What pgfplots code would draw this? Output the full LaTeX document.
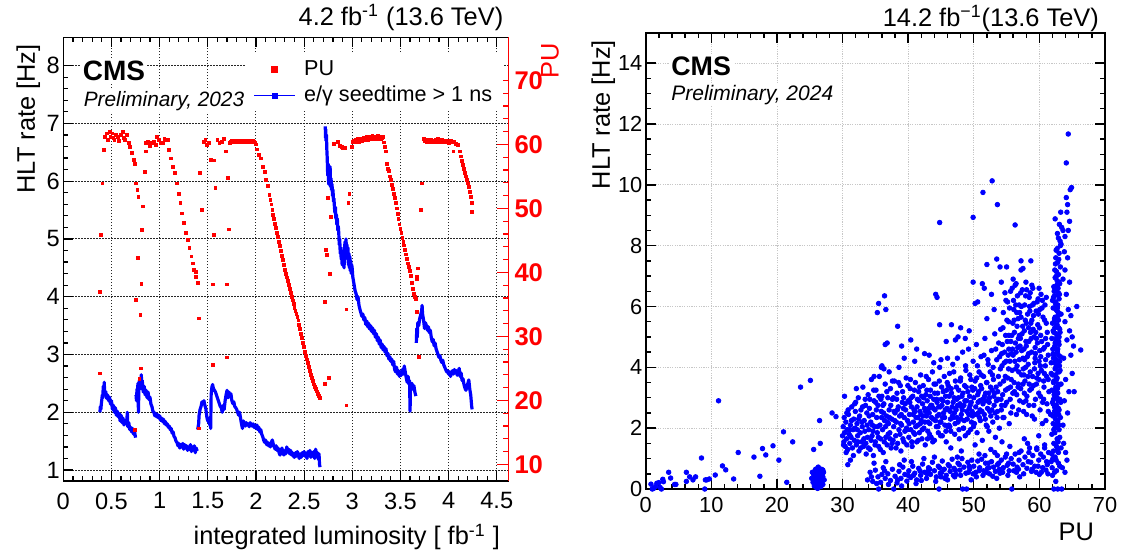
\documentclass[border=0pt]{standalone}
\usepackage{fontspec}
\setmainfont{Liberation Sans}
\usepackage{pgfplots}
\pgfplotsset{compat=1.18}
\definecolor{rred}{RGB}{255,0,0}
\definecolor{rblue}{RGB}{0,0,255}
\newcommand{\tfL}{\fontsize{11.8}{12}\selectfont}
\newcommand{\tfR}{\fontsize{10.9}{11}\selectfont}
\newcommand{\lab}{\fontsize{12.7}{13}\selectfont}
\begin{document}
\begin{tikzpicture}
\useasboundingbox (0pt,0pt) rectangle (561.5pt,-277pt);
%================ LEFT PANEL, rate axis =================
\begin{axis}[
  at={(31.65pt,-240.5pt)}, anchor=south west, scale only axis,
  width=222.5pt, height=221.85pt,
  xmin=0, xmax=4.62, ymin=0.81, ymax=8.49,
  clip mode=individual,
  /pgf/number format/assume math mode=true,
  xtick={0,0.5,...,4.5}, ytick={1,2,...,8},
  minor x tick num=4, minor y tick num=4,
  ytick pos=left,
  tick align=inside, major tick length=5pt, minor tick length=2.5pt,
  tick style={black, line width=0.6pt},
  axis line style={line width=0.7pt},
  grid=major, major grid style={black!85, dash pattern=on 0.6pt off 0.9pt, line width=0.45pt},
  xticklabel style={font=\tfL, inner sep=0pt, yshift=-5.6pt},
  yticklabel style={font=\tfL, inner sep=0pt, xshift=-1.6pt},
  xlabel={integrated luminosity [ fb\textsuperscript{-1} ]},
  ylabel={HLT rate [Hz]},
  every axis x label/.style={at={(axis description cs:0.997,-0.1442)}, anchor=base east, font=\lab},
  every axis y label/.style={at={(axis description cs:-0.0787,1.0)}, rotate=90, anchor=east, font=\lab},
  unbounded coords=jump,
]
\addplot[rblue, line width=1.6pt, no marks, line join=round] coordinates {
(0.380,2.00)(0.385,2.10)(0.390,2.05)(0.395,2.15)(0.400,2.22)(0.405,2.30)(0.410,2.25)(0.415,2.45)(0.420,2.35)(0.425,2.52)(0.430,2.30)(0.440,2.36)(0.450,2.24)(0.460,2.30)(0.470,2.20)(0.480,2.26)(0.490,2.14)(0.500,2.20)(0.510,2.05)(0.520,2.12)(0.530,2.00)(0.540,2.08)(0.550,1.95)(0.560,2.02)(0.570,1.92)(0.580,1.98)(0.590,1.85)(0.600,1.95)(0.610,1.82)(0.620,1.90)(0.630,1.78)(0.640,1.86)(0.650,1.80)(0.660,1.88)(0.665,2.00)(0.670,1.75)(0.680,1.82)(0.690,1.70)(0.700,1.74)(0.710,1.66)(0.720,1.72)(0.730,1.62)(0.740,1.66)(0.750,1.56)(0.751,nan)
(0.755,2.30)(0.760,2.20)(0.765,2.40)(0.770,2.35)(0.775,2.50)(0.780,2.00)(0.785,2.45)(0.790,2.55)(0.795,2.40)(0.800,2.50)(0.805,2.45)(0.810,2.65)(0.815,2.40)(0.820,2.55)(0.830,2.35)(0.840,2.45)(0.850,2.30)(0.860,2.38)(0.870,2.25)(0.880,2.35)(0.890,2.22)(0.900,2.26)(0.910,2.14)(0.920,2.10)(0.930,2.02)(0.940,2.00)(0.950,1.94)(0.960,1.98)(0.970,1.92)(0.980,1.96)(0.990,1.90)(1.000,1.94)(1.010,1.86)(1.020,1.90)(1.030,1.84)(1.040,1.88)(1.050,1.80)(1.060,1.84)(1.070,1.78)(1.080,1.80)(1.090,1.74)(1.100,1.76)(1.110,1.70)(1.120,1.72)(1.130,1.64)(1.140,1.66)(1.150,1.58)(1.160,1.56)(1.170,1.50)(1.180,1.48)(1.190,1.42)(1.200,1.46)(1.210,1.38)(1.220,1.44)(1.230,1.40)(1.240,1.46)(1.250,1.36)(1.260,1.44)(1.270,1.38)(1.280,1.42)(1.290,1.34)(1.300,1.40)(1.310,1.36)(1.320,1.44)(1.330,1.32)(1.340,1.40)(1.350,1.35)(1.360,1.42)(1.370,1.30)(1.380,1.38)(1.390,1.33)(1.392,nan)
(1.395,1.70)(1.400,1.75)(1.405,1.80)(1.410,1.95)(1.415,2.00)(1.420,2.05)(1.430,2.10)(1.440,2.18)(1.450,2.15)(1.460,2.20)(1.470,2.12)(1.480,2.06)(1.490,1.92)(1.495,1.88)(1.500,1.85)(1.505,1.90)(1.510,1.82)(1.515,1.86)(1.520,1.78)(1.525,1.84)(1.530,1.72)(1.535,2.30)(1.540,2.40)(1.545,2.45)(1.550,2.48)(1.560,2.40)(1.570,2.38)(1.580,2.35)(1.590,2.30)(1.600,2.25)(1.610,2.20)(1.620,2.15)(1.630,2.10)(1.640,2.08)(1.650,2.00)(1.660,2.12)(1.670,2.05)(1.680,2.20)(1.690,2.30)(1.700,2.38)(1.710,2.25)(1.720,2.35)(1.730,2.28)(1.740,2.32)(1.750,2.20)(1.760,2.15)(1.770,2.18)(1.780,2.10)(1.790,2.08)(1.800,2.05)(1.810,2.00)(1.820,1.95)(1.830,2.00)(1.840,1.90)(1.850,1.80)(1.860,1.72)(1.870,1.85)(1.880,1.80)(1.890,1.76)(1.900,1.82)(1.910,1.78)(1.920,1.80)(1.930,1.75)(1.940,1.82)(1.950,1.78)(1.960,1.76)(1.970,1.80)(1.980,1.74)(1.990,1.78)(2.000,1.72)(2.010,1.78)(2.020,1.70)(2.030,1.74)(2.040,1.66)(2.050,1.70)(2.060,1.62)(2.070,1.58)(2.080,1.52)(2.090,1.48)(2.100,1.52)(2.110,1.44)(2.120,1.48)(2.130,1.42)(2.140,1.46)(2.150,1.40)(2.160,1.48)(2.170,1.52)(2.180,1.45)(2.190,1.40)(2.200,1.36)(2.210,1.42)(2.220,1.34)(2.230,1.38)(2.240,1.30)(2.250,1.26)(2.260,1.32)(2.270,1.38)(2.280,1.30)(2.290,1.26)(2.300,1.34)(2.310,1.28)(2.320,1.40)(2.330,1.32)(2.340,1.36)(2.350,1.28)(2.360,1.34)(2.370,1.26)(2.380,1.30)(2.390,1.24)(2.400,1.22)(2.410,1.30)(2.420,1.24)(2.430,1.32)(2.440,1.26)(2.450,1.20)(2.460,1.28)(2.470,1.22)(2.480,1.30)(2.490,1.25)(2.500,1.32)(2.510,1.24)(2.520,1.28)(2.530,1.20)(2.540,1.32)(2.550,1.26)(2.560,1.34)(2.570,1.22)(2.580,1.30)(2.590,1.24)(2.600,1.32)(2.610,1.20)(2.620,1.36)(2.630,1.25)(2.640,1.30)(2.650,1.18)(2.655,1.28)(2.660,1.10)(2.665,1.05)(2.666,nan)
(2.720,6.95)(2.722,6.75)(2.725,6.90)(2.728,6.70)(2.732,6.80)(2.736,6.55)(2.740,6.40)(2.745,6.10)(2.750,6.30)(2.755,5.95)(2.760,6.15)(2.765,6.00)(2.770,6.25)(2.775,5.90)(2.780,6.05)(2.785,5.85)(2.790,5.95)(2.795,5.75)(2.800,5.85)(2.805,5.65)(2.810,5.70)(2.815,5.55)(2.820,5.45)(2.825,5.55)(2.830,5.35)(2.835,5.42)(2.840,5.25)(2.845,5.35)(2.850,5.15)(2.855,5.22)(2.860,5.10)(2.865,4.90)(2.870,5.00)(2.875,4.75)(2.880,4.85)(2.885,4.65)(2.890,4.75)(2.895,4.55)(2.900,4.70)(2.905,4.60)(2.910,4.80)(2.915,4.50)(2.920,4.85)(2.925,4.95)(2.930,4.70)(2.935,5.00)(2.940,4.80)(2.945,4.90)(2.950,4.65)(2.955,4.85)(2.960,4.55)(2.965,4.75)(2.970,4.50)(2.975,4.70)(2.980,4.45)(2.985,4.62)(2.990,4.40)(2.995,4.55)(3.000,4.48)(3.005,4.35)(3.010,4.30)(3.020,4.20)(3.030,4.10)(3.040,4.05)(3.050,3.95)(3.060,4.00)(3.070,3.85)(3.080,3.78)(3.090,3.72)(3.100,3.66)(3.110,3.70)(3.120,3.60)(3.130,3.64)(3.140,3.52)(3.150,3.58)(3.160,3.48)(3.170,3.54)(3.180,3.44)(3.190,3.50)(3.200,3.40)(3.210,3.46)(3.220,3.36)(3.230,3.42)(3.240,3.30)(3.250,3.36)(3.260,3.24)(3.270,3.30)(3.280,3.18)(3.290,3.25)(3.300,3.12)(3.310,3.18)(3.320,3.08)(3.330,3.14)(3.340,3.04)(3.350,3.10)(3.360,2.98)(3.370,3.02)(3.380,2.92)(3.390,2.96)(3.400,2.88)(3.410,2.92)(3.420,2.82)(3.430,2.88)(3.440,2.74)(3.450,2.70)(3.460,2.78)(3.470,2.66)(3.480,2.72)(3.490,2.62)(3.500,2.70)(3.510,2.64)(3.520,2.74)(3.530,2.66)(3.540,2.80)(3.550,2.70)(3.560,2.60)(3.570,2.52)(3.580,2.62)(3.590,2.48)(3.595,2.55)(3.600,2.02)(3.605,2.50)(3.610,2.42)(3.620,2.50)(3.630,2.40)(3.640,2.46)(3.650,2.35)(3.660,2.28)(3.661,nan)
(3.665,3.20)(3.670,3.45)(3.675,3.30)(3.680,3.55)(3.690,3.50)(3.700,3.62)(3.710,3.68)(3.720,3.75)(3.725,3.85)(3.730,3.70)(3.740,3.60)(3.750,3.45)(3.760,3.55)(3.770,3.50)(3.780,3.42)(3.790,3.48)(3.800,3.38)(3.810,3.42)(3.820,3.30)(3.830,3.22)(3.840,3.26)(3.850,3.15)(3.860,3.20)(3.870,3.10)(3.880,3.05)(3.890,3.00)(3.900,2.95)(3.910,2.98)(3.920,2.90)(3.930,2.86)(3.940,2.90)(3.950,2.82)(3.960,2.78)(3.970,2.74)(3.980,2.70)(3.990,2.72)(4.000,2.66)(4.010,2.70)(4.020,2.62)(4.030,2.68)(4.040,2.72)(4.050,2.66)(4.060,2.74)(4.070,2.68)(4.080,2.72)(4.090,2.64)(4.100,2.70)(4.110,2.76)(4.120,2.62)(4.130,2.68)(4.140,2.55)(4.150,2.58)(4.160,2.48)(4.170,2.42)(4.180,2.38)(4.190,2.45)(4.200,2.50)(4.210,2.56)(4.220,2.40)(4.230,2.30)(4.235,2.20)(4.240,2.10)(4.245,2.05)
};
\node[anchor=base west, font=\bfseries\fontsize{14}{14}\selectfont, fill=white, inner sep=1pt] at (axis description cs:0.0384,0.9038) {CMS};
\node[anchor=base west, font=\itshape\fontsize{10.4}{11}\selectfont, fill=white, inner sep=1pt] at (axis description cs:0.0407,0.8452) {Preliminary, 2023};
\node[anchor=base east, font=\lab, inner sep=0pt] at (axis description cs:0.9895,1.0277) {4.2 fb\textsuperscript{-1} (13.6 TeV)};
\end{axis}
%================ LEFT PANEL, PU axis =================
\begin{axis}[
  at={(31.65pt,-240.5pt)}, anchor=south west, scale only axis,
  width=222.5pt, height=221.85pt,
  xmin=0, xmax=4.62, ymin=7.39, ymax=76.72,
  clip mode=individual,
  /pgf/number format/assume math mode=true,
  axis x line=none,
  axis y line*=right,
  ytick={10,20,...,70}, minor y tick num=4,
  tick align=inside, major tick length=5.5pt, minor tick length=2.5pt,
  y axis line style={rred, line width=0.8pt},
  ytick style={rred, line width=0.6pt},
  yticklabel style={rred, font=\bfseries\fontsize{12.8}{13}\selectfont, inner sep=0pt, xshift=2.9pt},
  ylabel={PU},
  every axis y label/.style={at={(axis description cs:1.094,1.003)}, rotate=90, anchor=east, font=\lab, text=rred},
  legend style={at={(axis description cs:0.4106,0.9624)}, anchor=north west, draw=none, fill=white,
    inner xsep=3.5pt, inner ysep=1pt, font=\fontsize{10.8}{12}\selectfont,
    nodes={inner sep=2pt, text depth=0.15em}, column sep=2pt},
  legend cell align=left,
]
\addplot[only marks, mark=square*, mark size=0.7pt, color=rred, mark options={draw=none, fill=rred}, forget plot] coordinates {
(0.378,24.2)(0.380,36.9)(0.390,45.9)(0.405,53.9)(0.420,59.1)(0.430,61.2)(0.450,61.7)(0.465,60.7)(0.480,62.0)(0.490,61.2)(0.510,61.7)(0.520,61.0)(0.530,60.7)(0.545,61.5)(0.565,61.2)(0.580,60.5)(0.600,61.5)(0.620,62.0)(0.630,61.0)(0.640,60.7)(0.660,61.5)(0.680,60.2)(0.695,59.6)(0.710,58.6)(0.730,57.6)(0.745,57.0)(0.750,53.9)(0.752,35.7)(0.745,15.4)(0.770,52.9)(0.775,42.2)(0.780,51.8)(0.790,23.4)(0.800,33.4)(0.802,25.0)(0.810,38.2)(0.820,46.6)(0.825,50.3)(0.845,55.7)(0.855,58.9)
(0.860,60.2)(0.880,60.4)(0.900,59.8)(0.920,60.2)(0.940,60.4)(0.960,59.9)(0.970,61.2)(0.990,60.7)(1.010,60.2)(1.030,60.2)(1.050,60.9)(1.070,60.7)(1.090,60.7)(1.100,59.1)(1.120,57.8)(1.140,56.5)(1.160,55.5)(1.180,53.9)(1.200,52.3)(1.215,50.8)(1.230,49.2)(1.250,47.7)(1.270,46.1)(1.290,45.1)(1.310,43.8)(1.330,42.5)(1.345,41.4)(1.360,40.4)(1.375,40.1)(1.380,39.3)(1.395,38.4)(1.405,32.8)(1.405,15.6)
(1.420,55.5)(1.440,49.7)(1.460,60.4)(1.475,60.7)(1.490,59.9)(1.510,60.2)(1.530,57.6)(1.550,38.1)(1.552,25.5)(1.560,45.9)(1.565,57.5)(1.580,53.2)(1.600,60.7)(1.620,60.2)(1.650,60.4)(1.670,60.9)(1.690,58.9)(1.700,38.1)(1.702,26.7)(1.710,54.8)(1.720,46.7)(1.730,60.2)
(1.74,60.4)(1.75,60.6)(1.76,60.3)(1.77,60.5)(1.78,60.4)(1.79,60.6)(1.80,60.5)(1.81,60.3)(1.82,60.5)(1.83,60.6)(1.84,60.4)(1.85,60.5)(1.86,60.3)(1.87,60.6)(1.88,60.4)(1.89,60.5)(1.90,60.6)(1.91,60.4)(1.92,60.5)(1.93,60.3)(1.94,60.5)(1.95,60.6)(1.96,60.4)(1.97,60.5)(1.98,60.4)(1.99,60.3)(2.00,60.0)
(2.01,59.2)(2.03,58.4)(2.05,57.8)(2.07,56.5)(2.09,55.7)(2.10,54.5)(2.12,53.5)(2.14,52.1)(2.15,51.3)(2.16,50.6)(2.17,49.8)(2.18,49.0)(2.19,48.3)(2.20,47.6)(2.21,46.9)(2.22,46.2)(2.23,45.5)(2.24,44.8)(2.25,44.1)(2.26,43.4)(2.27,42.6)(2.28,41.9)(2.29,41.1)(2.30,40.4)(2.31,39.8)(2.32,39.2)(2.33,38.6)(2.34,38.0)(2.35,37.4)(2.36,36.8)(2.37,36.2)(2.38,35.6)(2.39,35.1)(2.40,34.5)(2.41,34.0)(2.42,33.5)(2.43,33.0)(2.44,32.5)(2.45,31.8)(2.46,31.1)(2.47,30.4)(2.48,29.7)(2.49,29.0)(2.50,28.3)(2.51,27.6)(2.52,27.0)(2.53,26.4)(2.54,25.8)(2.55,25.2)(2.56,24.6)(2.57,24.0)(2.58,23.5)(2.59,23.0)(2.60,22.5)(2.61,22.1)(2.62,21.8)(2.63,21.4)(2.64,21.0)(2.65,20.7)(2.66,20.4)
(2.72,22.6)(2.72,35.4)(2.73,43.5)(2.74,42.7)(2.75,51.6)(2.76,23.5)(2.77,39.8)(2.78,48.7)(2.81,60.1)(2.85,60.4)(2.87,59.8)(2.89,59.6)(2.90,59.5)(2.92,59.4)(2.94,34.2)(2.94,19.2)(2.96,50.8)(2.97,52.3)(3.00,59.6)
(3.01,60.4)(3.02,60.6)(3.03,60.3)(3.04,60.7)(3.05,60.5)(3.06,60.8)(3.07,60.4)(3.08,60.6)(3.09,60.9)(3.10,60.5)(3.11,60.7)(3.12,61.0)(3.13,60.6)(3.14,60.8)(3.15,61.1)(3.16,60.7)(3.17,60.9)(3.18,61.2)(3.19,60.8)(3.20,61.0)(3.21,61.3)(3.22,60.9)(3.23,61.1)(3.24,60.8)(3.25,61.2)(3.26,60.9)(3.27,61.4)(3.28,61.0)(3.29,61.2)(3.30,60.8)(3.31,61.0)(3.32,61.2)(3.33,60.3)(3.34,59.6)(3.35,58.9)(3.36,57.0)(3.37,56.2)(3.38,55.8)(3.39,55.0)(3.40,54.4)(3.41,53.6)(3.42,53.0)(3.43,52.2)(3.44,51.6)(3.45,50.8)(3.46,50.0)(3.47,49.1)(3.48,48.3)(3.49,47.5)(3.50,46.8)(3.51,46.1)(3.52,45.4)(3.53,44.8)(3.54,44.2)(3.55,43.5)(3.56,42.8)(3.57,42.1)(3.58,41.4)(3.59,40.8)(3.60,40.2)(3.61,39.4)(3.62,38.4)(3.63,37.4)(3.64,36.6)(3.65,36.1)(3.66,35.8)
(3.67,38.9)(3.67,33.8)(3.68,40.6)(3.69,26.8)(3.675,39.3)(3.71,49.7)(3.72,53.9)
(3.74,60.9)(3.75,60.5)(3.76,60.6)(3.77,60.3)(3.78,60.7)(3.79,60.4)(3.80,60.6)(3.81,60.4)(3.82,60.7)(3.83,60.5)(3.84,60.3)(3.85,60.6)(3.86,60.4)(3.87,60.7)(3.88,60.5)(3.89,60.8)(3.90,60.4)(3.91,60.6)(3.92,60.5)(3.93,60.7)(3.94,60.3)(3.95,60.6)(3.96,60.4)(3.97,60.5)(3.98,60.6)(3.99,60.4)(4.00,60.2)(4.02,60.5)(4.04,60.3)(4.05,58.9)(4.06,60.4)(4.08,60.1)(4.10,59.9)(4.12,58.9)(4.13,58.1)(4.14,57.4)(4.15,56.8)(4.16,56.1)(4.17,55.5)(4.18,55.0)(4.19,54.4)(4.20,53.9)(4.21,53.4)(4.22,52.6)(4.23,51.8)(4.24,50.8)(4.245,49.5)
};
\addlegendimage{legend image code/.code={\fill[rred] (0.36cm,0cm) +(-1.5pt,-1.5pt) rectangle +(1.5pt,1.5pt);}}
\addlegendentry{PU}
\addlegendimage{legend image code/.code={\draw[rblue, line width=0.9pt] (0cm,0cm) -- (0.72cm,0cm); \fill[rblue] (0.36cm,0cm) +(-1.2pt,-1.2pt) rectangle +(1.2pt,1.2pt);}}
\addlegendentry{e/γ seedtime > 1 ns}
\end{axis}
%================ RIGHT PANEL =================
\begin{axis}[
  at={(322.85pt,-244.5pt)}, anchor=south west, scale only axis,
  width=229.65pt, height=228.15pt,
  xmin=0, xmax=70, ymin=0, ymax=15,
  clip mode=individual,
  /pgf/number format/assume math mode=true,
  xtick={0,10,...,70}, ytick={0,2,...,14},
  minor x tick num=4, minor y tick num=3,
  tick align=inside, major tick length=5pt, minor tick length=2.5pt,
  tick style={black, line width=0.7pt},
  axis line style={line width=0.9pt},
  grid=major, major grid style={black!22, dash pattern=on 0.6pt off 0.6pt, line width=0.4pt},
  xticklabel style={font=\tfR, inner sep=0pt, yshift=-3.9pt},
  yticklabel style={font=\tfR, inner sep=0pt, xshift=-1.5pt},
  xlabel={PU}, ylabel={HLT rate [Hz]},
  every axis x label/.style={at={(axis description cs:0.9913,-0.1118)}, anchor=base east, font=\lab},
  every axis y label/.style={at={(axis description cs:-0.0921,0.9993)}, rotate=90, anchor=east, font=\lab},
]
\addplot[only marks, mark=*, mark size=1.15pt, color=rblue, mark options={draw=none, fill=rblue}] coordinates {
(0.8,0.16)(1.2,0.02)(1.5,0.08)(1.7,0.19)(2.0,0.21)(2.2,0.05)(2.6,0.32)(2.7,0.24)(3.5,0.55)(3.8,0.36)(4.6,0.15)(6.2,0.55)(6.2,0.25)(6.7,0.40)(7.2,0.30)(7.6,0.40)(8.5,1.02)(9.0,0.00)(9.3,0.30)(9.7,0.33)(10.6,0.46)(11.1,2.90)(11.7,0.76)(12.2,0.63)(13.4,0.33)(14.1,1.20)(16.5,1.05)(17.4,0.42)(17.8,1.33)(18.3,1.12)(19.4,1.42)(20.3,0.95)(21.0,1.88)(21.5,0.22)(22.4,1.55)(23.6,3.35)(25.1,3.57)(25.6,1.30)(26.5,2.25)(26.6,1.50)(28.4,2.50)(29.0,2.38)(1.0,0.0)(2.4,0.0)(4.4,0.15)(9.1,0.30)
(25.3,0.35)(25.5,0.22)(25.6,0.48)(25.7,0.10)(25.8,0.60)(25.9,0.30)(26.0,0.42)(26.0,0.05)(26.1,0.55)(26.1,0.18)(26.2,0.68)(26.2,0.35)(26.3,0.25)(26.3,0.50)(26.4,0.12)(26.4,0.40)(26.5,0.62)(26.5,0.30)(26.6,0.20)(26.6,0.45)(26.7,0.56)(26.7,0.08)(26.8,0.35)(26.8,0.65)(26.9,0.25)(26.9,0.48)(27.0,0.40)(27.0,0.15)(27.1,0.55)(27.2,0.30)(25.4,0.55)(25.6,0.28)(25.8,0.40)(26.0,0.25)(26.2,0.02)(26.4,0.58)(26.6,0.38)(26.8,0.18)(27.0,0.62)(25.9,0.65)(26.3,0.72)(26.5,0.48)(26.1,0.36)(26.7,0.30)(25.7,0.45)
(30.0,1.75)(30.1,2.05)(30.2,1.55)(30.3,1.85)(30.4,1.40)(30.5,2.20)(30.6,1.65)(30.7,1.95)(30.8,1.30)(30.9,2.45)(31.0,1.80)(31.1,1.50)(31.2,2.10)(31.3,1.70)(31.4,2.70)(31.5,1.35)(31.6,1.95)(31.7,2.30)(31.8,1.60)(31.9,2.00)(32.0,2.85)(32.1,1.45)(32.2,2.15)(32.3,1.75)(32.4,3.00)(32.5,1.25)(32.6,2.40)(32.7,1.85)(32.8,2.60)(32.9,1.55)(33.0,2.05)(33.1,3.35)(33.2,1.40)(33.3,2.25)(33.4,1.90)(33.5,2.75)(33.6,1.15)(33.7,2.50)(33.8,1.70)(33.9,3.10)(30.8,0.80)(31.2,0.95)(30.3,3.05)(32.1,3.30)
(34.0,1.95)(34.1,2.65)(34.2,1.30)(34.3,2.20)(34.4,3.60)(34.5,1.75)(34.6,2.45)(34.7,1.10)(34.8,2.90)(34.9,2.05)(35.0,1.55)(35.1,3.25)(35.2,2.35)(35.3,1.85)(35.4,2.75)(35.5,1.40)(35.6,3.70)(35.7,2.10)(35.8,1.65)(35.9,2.55)(36.0,3.05)(36.1,1.95)(36.2,1.20)(36.3,2.80)(36.4,2.25)(36.5,3.45)(36.6,1.70)(36.7,2.40)(36.8,1.45)(36.9,3.00)(37.0,2.15)(37.1,2.60)(37.2,1.85)(37.3,3.30)(37.4,1.35)(37.5,2.30)(37.6,2.95)(37.7,1.60)(37.8,2.05)(37.9,3.55)(38.0,2.50)(38.1,1.75)(38.2,2.20)(38.3,3.15)(38.4,1.50)(38.5,2.70)(38.6,1.95)(38.7,2.40)(38.8,3.40)(38.9,1.25)(39.0,2.10)(39.1,2.85)(39.2,1.65)(39.3,3.00)(39.4,2.35)(39.5,1.90)(39.6,2.60)(39.7,3.65)(39.8,1.45)(39.9,2.25)
(35.3,5.80)(35.5,6.10)(36.4,6.35)(36.6,5.90)(36.5,4.75)(36.8,4.80)(36.0,4.05)(36.3,3.95)(37.1,3.85)(37.6,3.55)(38.6,4.00)(38.4,5.35)(39.0,4.70)(39.4,4.30)(40.4,4.90)(34.8,3.70)(35.9,4.00)
(40.0,2.90)(40.1,1.70)(40.2,2.45)(40.3,3.30)(40.4,1.95)(40.5,2.70)(40.6,1.40)(40.7,3.05)(40.8,2.20)(40.9,2.60)(41.0,1.80)(41.1,3.50)(41.2,2.35)(41.3,1.55)(41.4,2.95)(41.5,2.10)(41.6,3.20)(41.7,1.85)(41.8,2.55)(41.9,3.75)(42.0,2.25)(42.1,1.65)(42.2,2.80)(42.3,3.40)(42.4,2.00)(42.5,2.65)(42.6,1.45)(42.7,3.10)(42.8,2.40)(42.9,2.90)(43.0,1.90)(43.1,3.60)(43.2,2.50)(43.3,2.15)(43.4,3.25)(43.5,1.70)(43.6,2.75)(43.7,3.85)(43.8,2.30)(43.9,2.95)(44.0,1.60)(44.1,2.60)(44.2,3.45)(44.3,2.05)(44.4,2.85)(44.5,3.15)(44.6,1.85)(44.7,2.45)(44.8,4.00)(44.9,2.70)(45.0,2.20)(45.1,3.35)(45.2,1.75)(45.3,2.90)(45.4,2.50)(45.5,3.70)(45.6,2.10)(45.7,3.05)(45.8,1.55)(45.9,2.65)
(41.3,4.60)(42.5,4.45)(43.2,4.40)(44.2,6.40)(44.4,6.30)(44.8,5.40)(45.0,4.25)(45.8,4.85)(46.0,4.30)(41.0,4.20)(43.9,4.15)
(46.0,2.85)(46.1,3.40)(46.2,2.10)(46.3,3.80)(46.4,2.55)(46.5,1.90)(46.6,3.15)(46.7,2.70)(46.8,4.10)(46.9,2.35)(47.0,3.00)(47.1,1.80)(47.2,3.55)(47.3,2.60)(47.4,2.95)(47.5,4.30)(47.6,2.20)(47.7,3.25)(47.8,1.65)(47.9,2.80)(48.0,3.65)(48.1,2.45)(48.2,3.05)(48.3,4.50)(48.4,2.00)(48.5,2.75)(48.6,3.40)(48.7,1.75)(48.8,3.90)(48.9,2.90)(49.0,2.30)(49.1,3.20)(49.2,4.60)(49.3,2.65)(49.4,3.75)(49.5,1.95)(49.6,2.85)(49.7,3.35)(49.8,2.40)(49.9,4.20)(50.0,3.00)(50.1,2.15)(50.2,3.55)(50.3,2.70)(50.4,4.75)(50.5,1.85)(50.6,3.10)(50.7,2.50)(50.8,3.85)(50.9,2.90)(51.0,2.25)(51.1,4.35)(51.2,3.30)(51.3,1.60)(51.4,2.80)(51.5,3.70)(51.6,2.45)(51.7,4.95)(51.8,3.15)(51.9,2.10)(52.0,3.50)(52.1,2.65)(52.2,4.10)(52.3,1.90)(52.4,3.00)(52.5,3.85)(52.6,2.40)(52.7,4.55)(52.8,3.25)(52.9,2.20)(53.0,3.60)(53.1,2.75)(53.2,5.10)(53.3,1.70)(53.4,3.35)(53.5,4.25)(53.6,2.55)(53.7,2.95)(53.8,4.80)(53.9,2.00)
(46.6,5.40)(47.2,4.90)(48.0,5.30)(48.7,4.95)(49.3,5.20)(49.9,6.80)(50.2,6.10)(50.6,6.15)(51.3,6.75)(51.6,6.60)(52.0,5.60)(52.7,6.40)(53.1,5.90)(47.6,5.00)(48.3,0.0)
(54.0,3.45)(54.1,5.25)(54.2,2.60)(54.3,4.05)(54.4,3.10)(54.5,5.80)(54.6,2.35)(54.7,4.50)(54.8,3.70)(54.9,6.20)(55.0,2.85)(55.1,4.85)(55.2,3.30)(55.3,5.50)(55.4,2.15)(55.5,4.20)(55.6,6.50)(55.7,3.60)(55.8,5.05)(55.9,2.70)(56.0,4.40)(56.1,5.90)(56.2,3.20)(56.3,6.70)(56.4,3.95)(56.5,2.45)(56.6,5.35)(56.7,4.65)(56.8,3.45)(56.9,6.05)(57.0,2.90)(57.1,4.95)(57.2,5.65)(57.3,3.75)(57.4,6.55)(57.5,4.30)(57.6,2.55)(57.7,5.20)(57.8,3.55)(57.9,6.35)(58.0,4.70)(58.1,3.05)(58.2,5.75)(58.3,4.10)(58.4,2.75)(58.5,6.00)(58.6,3.85)(58.7,5.45)(58.8,4.50)(58.9,2.40)(59.0,6.60)(59.1,3.40)(59.2,5.00)(59.3,4.15)(59.4,2.95)(59.5,5.85)(59.6,3.65)(59.7,4.80)(59.8,6.25)(59.9,3.15)(60.0,5.30)(60.1,2.60)(60.2,4.35)(60.3,3.90)(60.4,5.95)(60.5,2.85)(60.6,4.60)(60.7,3.35)(60.8,5.55)(60.9,4.05)(61.0,2.25)(61.1,3.70)(61.2,5.15)
(55.3,3.95)(55.9,4.60)(56.2,5.15)(56.6,4.05)(57.0,5.80)(57.3,4.55)(57.7,3.15)(58.0,5.45)(58.4,4.85)(58.8,3.30)(59.1,5.70)(59.4,4.45)(59.8,3.80)(60.2,5.05)(56.8,4.95)(57.5,3.45)(58.6,6.45)(55.6,3.35)(56.4,6.05)(57.9,4.00)(54.2,6.80)(55.0,7.30)(56.0,6.90)(57.2,7.20)
(46.5,1.35)(48.1,1.25)(50.2,1.45)(52.6,1.30)(54.3,1.55)(55.5,1.40)(56.9,1.20)(58.2,1.50)(59.6,1.35)(60.8,1.45)(53.6,1.10)(57.7,1.65)(59.9,1.75)
(33.8,0.30)(34.2,0.55)(34.6,0.25)(35.0,0.62)(35.4,0.40)(35.8,0.22)(36.2,0.70)(36.5,0.35)(36.9,0.50)(37.3,0.28)(37.6,0.65)(38.0,0.42)(38.3,0.20)(38.6,0.58)(38.9,0.35)(39.2,0.72)(39.5,0.48)(39.8,0.26)(40.1,0.60)(40.4,0.38)(40.7,0.75)(41.0,0.52)(41.3,0.30)(41.6,0.68)(41.9,0.45)(42.2,0.82)(42.5,0.55)(42.8,0.35)(43.1,0.70)(43.4,0.48)(43.7,0.88)(44.0,0.60)(44.3,0.40)(44.6,0.75)(44.9,0.52)(45.2,0.92)(45.5,0.65)(45.8,0.45)(46.1,0.80)(46.4,0.58)(46.7,0.98)(47.0,0.68)(47.3,0.48)(47.6,0.85)(47.9,0.62)(48.2,1.00)(48.5,0.72)(48.8,0.52)(49.1,0.88)(49.4,0.66)(49.7,0.95)(50.0,0.75)(50.3,0.55)(50.6,0.92)(50.9,0.70)(51.2,0.98)(51.5,0.60)(51.8,0.85)(52.1,0.68)(52.4,0.50)(52.7,0.90)(53.0,0.72)(53.3,0.58)(53.6,0.80)(53.9,0.65)(54.2,0.95)(54.5,0.70)(54.8,1.05)(55.1,0.78)(55.4,0.60)(55.7,1.00)(56.0,0.82)(56.3,1.15)(56.6,0.72)(56.9,0.95)(57.2,1.25)(57.5,0.80)(57.8,1.05)(58.1,0.68)(58.4,1.20)(58.7,0.88)(59.0,1.10)(59.3,0.75)(59.6,1.30)(59.9,0.95)(60.2,1.15)(60.5,0.70)(60.8,1.35)(61.1,0.90)(61.4,1.20)
(35.2,0.18)(36.0,0.48)(37.0,0.15)(38.4,0.30)(39.0,0.10)(40.0,0.45)(41.2,0.18)(42.0,0.28)(43.0,0.58)(44.2,0.25)(45.0,0.40)(46.0,0.30)(47.2,0.62)(48.0,0.45)(49.2,0.55)(50.4,0.40)(51.4,0.45)(52.9,0.42)(54.0,0.52)(55.2,0.45)(56.5,0.55)(57.6,0.50)(58.8,0.58)(60.0,0.48)(61.0,0.62)(34.8,0.85)(36.6,0.90)(39.4,0.95)(44.0,1.05)(50.8,1.15)(53.2,1.20)(35.5,0.0)(37.8,0.0)(44.7,0.0)(48.9,0.0)(55.8,0.0)
(62.0,0.45)(62.6,0.60)(63.1,0.75)(61.8,0.90)(62.4,1.05)(62.9,1.20)(63.3,1.35)(62.2,1.50)(62.7,1.65)(61.9,1.80)(63.0,1.95)(62.5,2.05)(62.1,2.15)(62.8,2.25)(63.2,2.35)(61.7,2.45)(62.3,2.55)(62.9,2.65)(62.6,2.75)(62.0,2.85)(63.1,2.95)(62.4,3.05)(62.8,3.15)(61.9,3.25)(62.5,3.35)(63.3,3.45)(62.2,3.55)(62.7,3.65)(62.0,3.75)(63.0,3.85)(62.4,3.95)(62.9,4.05)(61.8,4.15)(62.6,4.25)(63.2,4.35)(62.1,4.45)(62.7,4.55)(62.3,4.65)(63.0,4.75)(62.5,4.85)(61.9,4.95)(62.8,5.05)(62.2,5.15)(63.1,5.25)(62.6,5.35)(62.0,5.45)(62.9,5.55)(62.4,5.65)(63.3,5.75)(62.7,5.85)(62.1,5.95)(62.8,6.05)(62.5,6.15)(63.0,6.25)(62.3,6.35)(62.9,6.45)(62.6,6.55)(62.2,6.65)(63.1,6.75)(62.7,6.85)(62.4,6.95)(62.9,7.05)(62.6,7.15)(63.2,7.30)(62.8,7.45)(62.5,7.60)(63.0,7.75)(62.7,7.90)(63.3,8.05)(62.9,8.25)
(62.3,0.55)(62.9,0.85)(61.9,1.15)(62.6,1.40)(63.1,1.70)(62.2,1.95)(62.8,2.20)(62.4,2.40)(63.0,2.60)(62.1,2.80)(62.7,3.00)(62.3,3.20)(62.9,3.40)(62.6,3.60)(61.8,3.80)(62.5,4.00)(63.1,4.20)(62.2,4.40)(62.8,4.60)(62.4,4.80)(63.0,5.00)(62.1,5.20)(62.7,5.40)(62.3,5.60)(62.9,5.80)(62.5,6.00)(62.0,6.20)(62.8,6.40)(62.4,6.60)(63.0,6.80)(62.6,7.00)
(62.45,2.30)(62.85,2.90)(62.15,3.50)(62.65,4.10)(62.35,4.70)(62.95,5.30)(62.55,5.90)(62.25,6.50)(62.75,3.30)(62.05,4.60)(63.15,3.90)(62.6,5.10)(62.3,2.70)(62.9,4.40)(62.5,3.70)(62.7,2.50)
(61.95,0.70)(62.55,0.95)(62.15,1.25)(62.85,1.55)(62.35,1.85)(62.95,2.10)(62.05,2.40)(62.65,2.65)(63.25,2.85)(62.25,3.10)(62.85,3.45)(62.45,3.75)(63.05,4.05)(62.15,4.30)(62.75,4.50)(62.55,4.95)(63.15,5.15)(62.25,5.50)(62.85,5.70)(62.45,6.10)(63.05,6.40)(62.65,6.70)(62.35,7.20)(62.95,7.55)(62.55,7.85)(63.15,8.15)(62.75,8.40)(63.05,8.70)(63.25,9.10)
(62.05,1.00)(62.75,1.30)(62.35,2.00)(62.95,2.45)(62.15,2.95)(62.55,3.25)(62.85,3.85)(62.25,4.15)(62.95,4.85)(62.35,5.30)(62.75,5.95)(62.15,6.30)(62.85,6.60)(62.45,7.40)
(63.6,2.10)(63.8,2.90)(64.0,3.60)(63.7,4.30)(64.2,4.90)(63.9,5.50)(64.4,5.90)(64.1,6.40)(63.6,6.90)(64.6,5.20)(64.8,4.40)(65.0,3.80)(64.5,3.20)(65.3,3.20)(65.2,4.70)(65.7,6.00)(66.3,4.57)(64.3,2.50)(65.0,5.00)(64.8,5.70)(63.9,7.20)(64.3,7.60)(64.6,6.80)(64.0,1.20)(63.7,1.50)(64.2,0.95)(63.5,0.70)(63.9,0.55)
(62.4,8.88)(63.6,8.50)(64.4,8.50)(64.6,8.80)(64.2,9.10)(64.1,9.58)(64.7,9.84)(64.9,9.91)(64.4,11.67)(64.1,10.72)(63.9,8.30)(63.4,8.60)(64.3,9.35)(63.2,8.00)(63.8,7.80)(62.2,0.0)(62.8,0.0)(63.4,0.0)(62.5,0.25)
(44.8,8.76)(49.9,8.93)(51.4,9.75)(52.8,10.13)(53.6,9.35)(52.0,7.38)(53.5,7.56)(54.0,7.30)(56.3,8.68)(57.2,7.50)(57.5,7.25)(58.7,7.50)
(30.25,2.35)(30.55,1.20)(30.85,2.60)(31.05,1.95)(31.35,2.25)(31.65,1.10)(31.95,2.55)(32.25,1.95)(32.45,2.30)(32.75,1.35)(33.05,2.70)(33.25,1.65)(33.45,2.95)(33.75,2.10)(33.95,1.35)(34.15,2.95)(34.35,1.60)(34.55,2.10)(34.75,3.25)(34.95,1.45)(35.15,2.60)(35.35,2.05)(35.55,3.05)(35.75,1.30)(35.95,2.35)(36.15,2.75)(36.35,1.55)(36.55,2.05)(36.75,3.20)(36.95,1.80)(37.15,2.35)(37.35,2.75)(37.55,1.50)(37.75,3.00)(37.95,2.25)(38.15,1.35)(38.35,2.60)(38.55,3.50)(38.75,1.80)(38.95,2.45)(39.15,3.20)(39.35,1.55)(39.55,2.80)(39.75,2.00)(39.95,3.40)
(30.15,1.45)(30.65,2.50)(31.15,1.75)(31.85,2.80)(32.35,1.55)(32.95,2.20)(33.55,1.50)(34.05,2.40)(34.65,1.90)(35.05,2.85)(35.45,1.70)(35.85,2.95)(36.25,2.50)(36.85,2.20)(37.25,1.65)(37.85,2.55)(38.25,2.95)(38.85,2.15)(39.25,2.65)(39.85,1.95)
(40.15,2.15)(40.35,3.60)(40.55,1.55)(40.75,2.45)(40.95,3.25)(41.15,2.05)(41.35,2.70)(41.55,1.60)(41.75,3.35)(41.95,2.45)(42.15,1.95)(42.35,3.00)(42.55,2.20)(42.75,3.70)(42.95,1.65)(43.15,2.65)(43.35,3.05)(43.55,2.35)(43.75,1.55)(43.95,3.45)(44.15,2.25)(44.35,2.95)(44.55,2.05)(44.75,3.55)(44.95,1.75)(45.15,2.75)(45.35,3.20)(45.55,2.35)(45.75,1.90)(45.95,3.50)(46.15,2.60)(46.35,2.05)(46.55,3.30)(46.75,2.40)(46.95,3.85)(47.15,2.15)(47.35,3.35)(47.55,2.75)(47.75,1.95)(47.95,3.55)(48.15,2.70)(48.35,3.15)(48.55,2.25)(48.75,4.05)(48.95,2.55)(49.15,1.85)(49.35,3.05)(49.55,3.60)(49.75,2.55)(49.95,2.05)
(40.25,2.85)(40.85,1.85)(41.45,2.35)(42.05,3.05)(42.65,2.55)(43.25,1.80)(43.85,2.65)(44.45,2.40)(45.05,2.95)(45.65,2.60)(46.25,3.05)(46.85,2.85)(47.45,2.35)(48.05,2.30)(48.65,2.90)(49.25,2.45)(49.85,3.25)
(50.15,3.30)(50.35,2.45)(50.55,4.05)(50.75,3.20)(50.95,2.60)(51.15,3.75)(51.35,2.95)(51.55,4.40)(51.75,2.30)(51.95,3.50)(52.15,4.25)(52.35,2.85)(52.55,3.35)(52.75,2.60)(52.95,4.00)(53.15,3.15)(53.35,4.60)(53.55,2.35)(53.75,3.70)(53.95,4.35)(54.15,2.95)(54.35,4.75)(54.55,3.55)(54.75,2.75)(54.95,4.20)(55.15,3.65)(55.35,5.05)(55.55,2.95)(55.75,4.45)(55.95,5.45)(56.15,3.50)(56.35,4.80)(56.55,3.10)(56.75,5.60)(56.95,4.25)(57.15,3.30)(57.35,5.10)(57.55,3.95)(57.75,6.05)(57.95,2.90)(58.15,4.35)(58.35,5.30)(58.55,3.25)(58.75,4.95)(58.95,3.70)(59.15,6.10)(59.35,4.65)(59.55,3.45)(59.75,5.40)(59.95,4.20)(60.15,3.05)(60.35,4.85)(60.55,5.65)(60.75,3.80)(60.95,4.95)(61.15,2.80)(61.35,4.40)(61.45,3.20)
(50.45,3.65)(51.05,3.40)(51.65,3.05)(52.25,3.15)(52.85,3.75)(53.45,2.90)(54.05,3.95)(54.65,4.15)(55.25,4.40)(55.85,3.90)(56.45,4.50)(57.05,4.70)(57.65,4.60)(58.25,3.70)(58.85,5.55)(59.45,5.15)(60.05,4.55)(60.65,3.55)(61.25,4.75)
(55.45,5.95)(56.05,6.20)(56.65,6.35)(57.25,6.00)(57.85,5.55)(58.45,6.30)(59.05,5.25)(59.65,6.15)(60.25,6.40)(60.85,6.05)(55.05,5.55)(54.45,5.30)
(40.5,0.90)(42.4,1.00)(45.6,0.35)(47.5,1.05)(49.6,0.30)(51.7,1.10)(53.5,0.35)(55.0,1.15)(57.0,0.40)(58.5,1.35)(59.5,0.55)(60.6,1.05)(61.3,0.50)(38.7,0.80)(36.4,0.60)(34.4,0.40)(46.9,0.45)(52.2,0.85)
(54.25,4.45)(54.85,5.05)(55.15,6.15)(55.65,4.85)(55.85,6.60)(56.25,4.20)(56.55,5.80)(56.85,3.85)(57.15,6.45)(57.45,5.35)(57.65,3.75)(57.95,4.85)(58.05,6.55)(58.35,4.45)(58.65,5.15)(58.95,6.05)(59.25,3.95)(59.55,4.95)(59.85,5.75)(60.15,4.05)(60.45,6.20)(60.75,4.65)(61.05,5.45)(61.35,3.60)(55.35,4.60)(56.15,5.55)(56.95,5.05)(57.75,4.25)(58.55,5.85)(59.35,4.30)(60.05,5.90)(60.95,4.25)(55.95,3.15)(56.75,3.35)(57.55,2.85)(58.45,3.45)(59.15,2.75)(59.95,3.60)(60.65,2.95)(61.35,2.55)(54.75,6.45)(56.45,6.75)(57.95,6.80)(58.85,6.70)(59.95,6.60)(61.05,6.30)
(40.45,3.00)(41.05,2.55)(41.65,2.90)(42.25,2.40)(42.85,3.25)(43.45,2.75)(44.05,3.15)(44.65,2.70)(45.25,2.35)(45.85,3.25)(46.45,2.30)(47.05,2.50)(47.65,3.00)(48.25,2.60)(48.85,3.35)(49.45,2.75)(50.05,2.45)(50.65,2.85)(51.25,2.55)(51.85,2.90)(52.45,2.55)(53.05,3.05)(53.65,3.20)(54.25,2.75)(54.85,3.25)
(41.85,2.15)(43.05,2.20)(44.85,2.20)(46.05,2.05)(47.25,2.65)(48.45,2.00)(49.65,2.20)(50.85,2.35)(52.05,2.05)(53.25,2.50)(54.45,2.35)(55.65,2.50)(56.85,2.60)(58.05,2.45)(59.25,2.30)(60.45,2.15)
(41.8,0.60)(43.3,0.65)(44.8,0.70)(46.3,0.75)(47.8,0.80)(49.3,0.75)(50.8,0.60)(52.3,0.70)(53.8,0.85)(55.3,0.85)(56.8,0.65)(58.3,0.90)(59.8,0.75)(61.2,0.80)(40.8,0.45)(42.9,0.50)(45.1,0.55)(47.1,0.40)(49.9,0.50)(51.9,0.55)(54.4,0.55)(56.1,0.60)(58.9,0.65)(60.3,0.55)
};
\node[anchor=base west, font=\bfseries\fontsize{13.4}{14}\selectfont, fill=white, inner sep=1pt] at (axis description cs:0.0507,0.9073) {CMS};
\node[anchor=base west, font=\itshape\fontsize{10.5}{11}\selectfont, fill=white, inner sep=1pt] at (axis description cs:0.0507,0.8525) {Preliminary, 2024};
\node[anchor=base east, font=\lab, inner sep=0pt] at (axis description cs:0.9876,1.0136) {14.2 fb\textsuperscript{−1}(13.6 TeV)};
\end{axis}
\end{tikzpicture}
\end{document}
